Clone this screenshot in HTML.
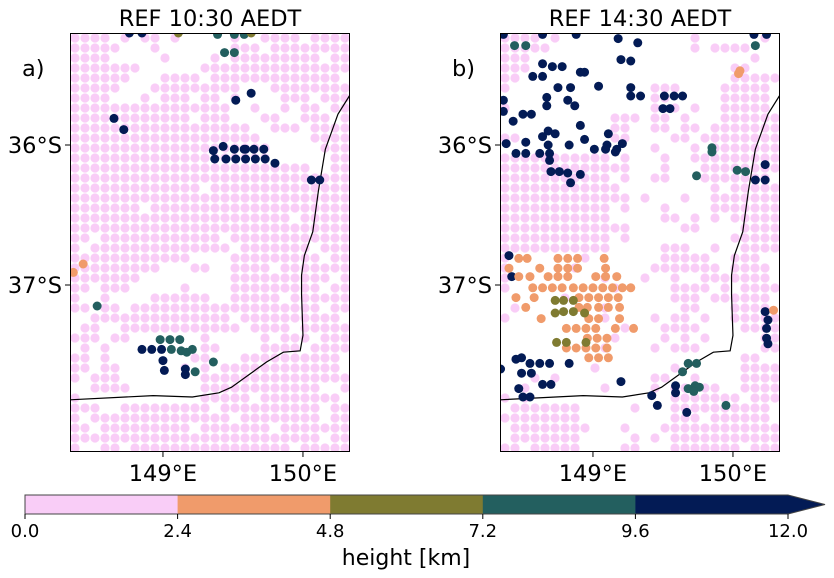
<!DOCTYPE html>
<html><head><meta charset="utf-8">
<style>
body{margin:0;background:#fff;}
svg{display:block;font-family:"DejaVu Sans","Liberation Sans",sans-serif;}
</style></head>
<body>
<svg id="fig" width="834" height="578" viewBox="0 0 834 578" xmlns="http://www.w3.org/2000/svg"></svg>
<script>
// ---------------- data ----------------
const panelTitles = ["REF 10:30 AEDT", "REF 14:30 AEDT"];
const panelTags = ["a)", "b)"];
const lonTicks = [149, 150];
const latTicks = [36, 37];
const cbTicks = [0.0, 2.4, 4.8, 7.2, 9.6, 12.0];
const cbColors = ["#f9cdf7", "#f09b6b", "#7f7b31", "#235f5f", "#031b55"];
// pink (low-height) echoes on a grid; 'o' = echo present (rows top->bottom)
const pinkA = [
"oooo.o.oo.o.....o..oooo.oooo","ooooo...o.......ooo.oooooooo","oooo.....o....o.ooooooooo.oo",
"ooooooo......ooooooooooooooo","oooooo...oooo.ooooooooooooo.","ooooo...ooooooooo...oooooooo",
"oooo...o.ooo.oo.o....ooo.ooo","oooooooooooooooo..o..o.oo.oo","oooooooooooo.ooo...oo..ooo.o",
"oooooooooooooooooo..ooo.oooo","ooooooooooooooooooo.....oooo","oooooooooooooooooooo.....ooo",
"oooooooooooooooooooo......oo","oooooooooooooooooooooooo..oo","oooooooooooooooooooooooooooo",
"ooooooooooooo.oooooooooooooo","oooooooooooooooooooooooooooo","ooooooo.oooooooooooooooooooo",
"oooooooooooooooooooooo.ooooo","oooooooooooooooooooooooooooo","oo.oooooooooooo.oooooooooooo",
"o.oooooooooooooo.ooooooo.ooo","oooooooooooo....ooooooooo.oo","ooooooooo...oo..oooo.ooooooo",
"ooooooo.........oooooooooo.o","oo.ooo.....o....ooooooooo.oo","o..o....oooooo..ooooo.oooooo",
"oo.oo.ooooooooooooooooooo.oo","..oooooooooooooo.oooooooooo.",".oo..oooooooooooo.oooo.ooooo",
"ooo.oo.......o.....o.ooo.ooo",".o.o.........oo....oooo.oooo","oo.o........oo...oooooooooo.",
"oo.oo......o.o.oooooooooooo.","o.ooo........ooooooooooooooo","..oooo.......oooooooooooo..o",
"o............ooooo.oooooooo.","ooo..ooooooooo.oooooooooo.oo","o.oooooooooooooo.oooooooo.oo",
"oo.ooooooooo.ooooooo.ooooooo","ooooooooooooooooooooooooo.oo","o..oo.oooooooooooooooo.ooooo"];
const pinkB = [
"oooo.o.............o......o.","ooooo..............o.oooo...","ooo......................o..",
"ooo....................oo...","oo.....................ooooo","o..............ooo....ooooo.",
"...............oo.....ooooo.","o..............o.o.o..ooooo.","...........ooo.oo.o...oooooo",
"...........oo..oo.oo.ooooooo","oo.........oo....oo.oooooooo","...............o...o.ooooooo",
"ooooooooooo.o...o..ooooooooo","ooooooooooooo...o...oooooooo","ooooooooooo.o..oo...ooooooo.",
"oooooooooooo.........o.ooooo","ooooooooooooo.o...o..ooooooo","ooooooooooo.o...o....ooooooo",
"ooooooooooo.....oo.o.o.ooooo","ooooooooooooo.....oo....oooo","ooooooooooo.o..........ooooo",
"ooooooooooo.....ooo..o..oooo","o.......o.......ooooo..ooo..","o......o.......ooooooo.oooo.",
"o.........o...o..o..ooooooo.","o..........o.....oooo.o.oooo","......o..........ooo.oooooo.",
".o........o.......oo...oooo.","o.........o....o.oo.o..ooooo","............o...oooo....oooo",
"...........o....o.o.o.....oo","..........o....o.ooo......oo","........................oo..",
".........o.......o......oooo","...o.o.........oo..o....oooo","..o.......o....o.ooooo..oooo",
"o.o..............ooooooo.ooo",".ooooooo.....o...oooooooooo.","oooooooo.........ooo.oooooo.",
".oooooooo...o...oooooooooooo",".ooooooo.....o.o.ooooooooooo","oo.ooooo....oo...ooooooo.ooo"];
// higher echoes: [lon, latS, height km]
const echoA = [
[148.72,35.89,11],[148.65,35.81,11],[149.52,35.68,11],[149.63,35.63,11],
[149.58,36.03,11],[149.36,36.04,11],[149.43,36.01,11],[149.51,36.03,11],[149.59,36.03,11],[149.65,36.03,11],[149.72,36.03,11],
[149.37,36.10,11],[149.45,36.10,11],[149.52,36.10,11],[149.59,36.10,11],[149.66,36.10,11],[149.73,36.10,11],[149.80,36.13,11],
[150.06,36.25,11],[150.12,36.25,11],[148.76,35.2,11],[148.85,35.2,11],
[149.39,35.21,8.5],[149.51,35.21,8.5],[149.58,35.21,8.5],[149.44,35.34,8.5],[149.51,35.34,8.5],
[149.63,35.2,6],[149.11,35.2,6],
[148.43,36.85,3.5],[148.36,36.91,3.5],[148.53,37.15,8.5],
[148.98,37.39,8.5],[149.05,37.39,8.5],[149.12,37.39,8.5],[149.06,37.46,8.5],[149.13,37.47,8.5],[149.17,37.48,8.5],[149.21,37.46,8.5],[149.36,37.55,8.5],[149.23,37.62,8.5],
[148.85,37.46,11],[148.92,37.46,11],[148.99,37.46,11],[149.00,37.54,11],[149.01,37.61,11],[149.16,37.60,11],[149.16,37.64,11]];
const echoB = [
[148.36,35.21,11],[148.64,35.21,11],[148.88,35.21,11],[149.18,35.24,11],[149.32,35.27,11],[149.20,35.39,11],[149.27,35.40,11],
[148.64,35.42,11],[148.71,35.44,11],[148.78,35.44,11],[148.57,35.51,11],[148.64,35.51,11],[148.91,35.48,11],[148.94,35.48,11],
[148.75,35.59,11],[148.84,35.59,11],[148.67,35.66,11],[148.67,35.72,11],[149.04,35.58,11],[149.27,35.59,11],[149.34,35.65,11],
[149.27,35.65,11],[149.51,35.65,11],[149.58,35.65,11],[149.64,35.65,11],[149.50,35.74,11],[149.55,35.74,11],
[148.36,35.68,11],[148.36,35.76,11],[148.43,35.83,11],[148.50,35.78,11],[148.56,35.78,11],[148.82,35.68,11],[148.87,35.72,11],
[148.91,35.86,11],[148.94,35.96,11],[148.68,35.90,11],[148.73,35.92,11],[148.64,35.94,11],[148.52,35.98,11],[148.68,36.00,11],
[148.83,36.00,11],[149.11,35.92,11],[149.10,36.00,11],[149.21,35.99,11],[149.16,36.05,11],[149.01,36.03,11],[149.09,36.03,11],
[149.17,36.03,11],[148.38,35.99,11],[148.45,36.06,11],[148.52,36.06,11],[148.62,36.06,11],[148.69,36.06,11],[148.69,36.11,11],
[148.70,36.19,11],[148.76,36.19,11],[148.82,36.20,11],[148.91,36.21,11],[148.84,36.27,11],
[150.15,35.21,11],[150.24,35.21,11],[150.23,36.25,11],[150.16,36.25,11],[150.23,36.14,11],
[148.44,35.29,8.5],[148.52,35.29,8.5],[150.16,35.29,8.5],[149.85,36.02,8.5],[149.85,36.05,8.5],[149.74,36.22,8.5],[150.03,36.18,8.5],[150.09,36.19,8.5],
[150.05,35.47,3.5],[150.04,35.49,3.5],
[148.40,36.79,11],[148.42,36.94,11],[148.45,37.53,11],[148.49,37.52,11],[148.55,37.56,11],[148.62,37.56,11],[148.69,37.56,11],
[148.34,37.60,11],[148.49,37.63,11],[148.56,37.63,11],[148.47,37.74,11],[148.50,37.80,11],[148.64,37.71,11],[148.70,37.71,11],
[148.55,37.80,11],[148.83,37.56,11],[149.20,37.69,11],[149.42,37.79,11],[149.46,37.86,11],[149.59,37.72,11],[149.59,37.77,11],
[149.67,37.91,11],[150.23,37.19,11],[150.24,37.31,11],[150.24,37.38,11],[150.25,37.42,11],[150.25,37.25,11],
[148.47,36.81,3.5],[148.53,36.81,3.5],[148.75,36.81,3.5],[148.82,36.81,3.5],[148.89,36.81,3.5],[149.08,36.81,3.5],
[148.40,36.88,3.5],[148.62,36.88,3.5],[148.75,36.88,3.5],[148.82,36.88,3.5],[148.89,36.88,3.5],[149.09,36.88,3.5],
[148.47,36.94,3.5],[148.55,36.94,3.5],[148.68,36.94,3.5],[148.75,36.94,3.5],[148.82,36.94,3.5],[149.02,36.94,3.5],[149.09,36.94,3.5],[149.17,36.94,3.5],
[148.57,37.02,3.5],[148.64,37.02,3.5],[148.71,37.02,3.5],[148.78,37.02,3.5],[148.86,37.02,3.5],[148.93,37.02,3.5],[149.00,37.02,3.5],[149.07,37.02,3.5],[149.14,37.02,3.5],[149.21,37.02,3.5],[149.27,37.02,3.5],
[148.45,37.09,3.5],[148.58,37.09,3.5],[148.90,37.09,3.5],[148.97,37.09,3.5],[149.04,37.09,3.5],[149.11,37.09,3.5],[149.18,37.09,3.5],
[148.52,37.16,3.5],[148.90,37.16,3.5],[148.96,37.16,3.5],[149.04,37.16,3.5],[149.11,37.16,3.5],[149.19,37.16,3.5],
[148.63,37.24,3.5],[148.97,37.24,3.5],[149.04,37.24,3.5],[149.19,37.24,3.5],
[148.81,37.31,3.5],[148.88,37.31,3.5],[148.95,37.31,3.5],[149.02,37.31,3.5],[149.16,37.31,3.5],[149.29,37.31,3.5],
[148.96,37.38,3.5],[149.03,37.38,3.5],[149.10,37.38,3.5],[148.81,37.45,3.5],[148.88,37.45,3.5],[148.95,37.45,3.5],[149.02,37.45,3.5],[149.10,37.45,3.5],
[148.97,37.52,3.5],[149.04,37.52,3.5],[149.11,37.52,3.5],[150.29,37.18,3.5],
[148.73,37.11,6],[148.79,37.11,6],[148.86,37.11,6],[148.73,37.20,6],[148.79,37.19,6],[148.86,37.19,6],[148.94,37.20,6],
[148.74,37.41,6],[148.81,37.41,6],[148.95,37.41,6],
[149.68,37.56,8.5],[149.74,37.56,8.5],[149.64,37.62,8.5],[149.73,37.72,8.5],[149.76,37.73,8.5],[149.68,37.74,8.5],[149.72,37.76,8.5],[149.95,37.86,8.5]];
// coastline [lon, latS]
const coastLon = [148.336,148.93,149.21,149.40,149.49,149.74,149.86,149.98,150.00,149.99,149.99,150.01,150.07,150.11,150.16,150.25,150.35];
const coastLat = [37.82,37.79,37.80,37.77,37.73,37.55,37.48,37.47,37.36,37.07,36.93,36.79,36.62,36.33,36.03,35.78,35.62];

// ---------------- axes ----------------
const NS = "http://www.w3.org/2000/svg";
const svg = document.getElementById("fig");
const panelX = [70, 500], PW = 280, PT = 33, PB = 452;
const LON0 = 148.336, PXDEG = 140, LAT0 = 36, Y36 = 145;
function xs(p, lon){ return panelX[p] + (lon - LON0) * PXDEG; }
function ys(lat){ return Y36 + (lat - LAT0) * PXDEG; }
function colorOf(h){ return cbColors[Math.min(4, Math.floor(h / 2.4))]; }
function el(tag, attrs, parent){ const e=document.createElementNS(NS,tag); for(const k in attrs) e.setAttribute(k,attrs[k]); (parent||svg).appendChild(e); return e; }
function txt(s, attrs, parent){ const e=el("text",attrs,parent); e.textContent=s; return e; }

const defs = el("defs",{});
[0,1].forEach(p=>{
  const cp = el("clipPath",{id:"clip"+p},defs);
  el("rect",{x:panelX[p],y:PT,width:PW,height:PB-PT},cp);
});

[0,1].forEach(p=>{
  const g = el("g",{"clip-path":"url(#clip"+p+")"});
  
  
  const pink = p ? pinkB : pinkA;
  pink.forEach((row,r)=>{
    for(let c=0;c<row.length;c++){
      if(row[c]!=='o') continue;
      const lon = LON0 + (5 + c*10)/PXDEG;
      const lat = LAT0 + (38 + r*10 - Y36)/PXDEG;
      const d = el("circle",{cx:xs(p,lon),cy:ys(lat),r:4.6,fill:cbColors[0]},g);
      
      
    }
  });
  const cl = el("polyline",{points:coastLon.map((lo,i)=>xs(p,lo)+","+ys(coastLat[i])).join(" "),fill:"none",stroke:"#000","stroke-width":1.2},g);
  
  
  (p ? echoB : echoA).forEach(e=>{
    const d = el("circle",{cx:xs(p,e[0]),cy:ys(e[1]),r:4.5,fill:colorOf(e[2])},g);
    
    
  });
  const fr = el("rect",{x:panelX[p]+0.5,y:PT+0.5,width:PW-1,height:PB-PT-1,fill:"none",stroke:"#000","stroke-width":1});
  
  
  const t = txt(panelTitles[p],{x:panelX[p]+PW/2,y:26,"text-anchor":"middle","font-size":22.5});
  
  
  const tg = txt(panelTags[p],{x:panelX[p]-48,y:76,"text-anchor":"start","font-size":22.5});
  
  
  lonTicks.forEach(lo=>{
    const x = xs(p,lo);
    el("line",{x1:x,x2:x,y1:PB,y2:PB+5,stroke:"#000"});
    const l = txt(lo+"°E",{x:x,y:481,"text-anchor":"middle","font-size":22.5});
    
    
  });
  latTicks.forEach(la=>{
    const y = ys(la);
    el("line",{x1:panelX[p]-5,x2:panelX[p],y1:y,y2:y,stroke:"#000"});
    const l = txt(la+"°S",{x:panelX[p]-8,y:y+8,"text-anchor":"end","font-size":22.5});
    
    
  });
});

// colorbar
const CB0 = 25, CB1 = 788, CBT = 495, CBB = 514;
function cx(v){ return CB0 + (v - cbTicks[0])/(cbTicks[cbTicks.length-1]-cbTicks[0])*(CB1-CB0); }
const cb = el("g",{});


cbColors.forEach((c,i)=>{
  el("rect",{x:cx(cbTicks[i]),y:CBT,width:cx(cbTicks[i+1])-cx(cbTicks[i])+0.5,height:CBB-CBT,fill:c},cb);
});
el("polygon",{points:`${CB1},${CBT} 825,${(CBT+CBB)/2} ${CB1},${CBB}`,fill:cbColors[4]},cb);
el("polygon",{points:`${CB0},${CBT} ${CB1},${CBT} 825,${(CBT+CBB)/2} ${CB1},${CBB} ${CB0},${CBB}`,fill:"none",stroke:"#444","stroke-width":1},cb);
cbTicks.forEach(v=>{
  const x = cx(v);
  el("line",{x1:x,x2:x,y1:CBB,y2:CBB+5,stroke:"#000"},cb);
  const l = txt(v.toFixed(1),{x:x,y:537,"text-anchor":"middle","font-size":18},cb);
  
  
});
const ct = txt("height [km]",{x:406,y:565,"text-anchor":"middle","font-size":22});


</script>
</body></html>
